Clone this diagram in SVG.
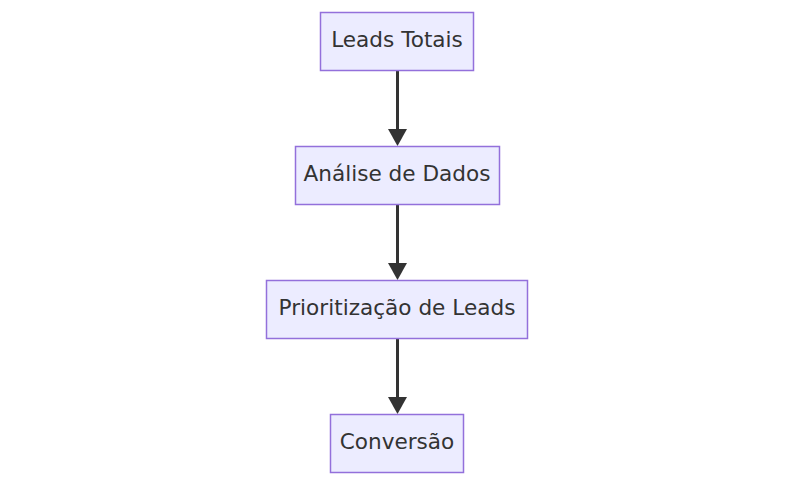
<svg xmlns="http://www.w3.org/2000/svg" width="795" height="486" viewBox="0 0 795 486">
<style>
.node rect{fill:#ECECFF;stroke:#9370DB;stroke-width:1.5}
.node text{font-family:"DejaVu Sans",Verdana,sans-serif;font-size:21.6px;fill:#333;text-anchor:middle}
.edge{stroke:#333;stroke-width:3;fill:none}
</style>
<defs>
<marker id="arrow" viewBox="0 0 17 19" refX="9" refY="9.5" markerUnits="userSpaceOnUse" markerWidth="17" markerHeight="19" orient="auto">
<path d="M0,0 L17,9.5 L0,19 z" fill="#333"/>
</marker>
</defs>
<rect width="795" height="486" fill="#fff"/>
<g id="connectors">
<path class="edge" d="M397.5,71 L397.5,138" marker-end="url(#arrow)"/>
<path class="edge" d="M397.5,205 L397.5,272" marker-end="url(#arrow)"/>
<path class="edge" d="M397.5,339 L397.5,406" marker-end="url(#arrow)"/>
</g>
<g id="n1" class="node"><rect x="320.5" y="12.5" width="153" height="58"/><text x="397" y="47">Leads Totais</text></g>
<g id="n2" class="node"><rect x="295.5" y="146.5" width="204" height="58"/><text x="397" y="181">Análise de Dados</text></g>
<g id="n3" class="node"><rect x="266.5" y="280.5" width="261" height="58"/><text x="397" y="315">Prioritização de Leads</text></g>
<g id="n4" class="node"><rect x="330.5" y="414.5" width="133" height="58"/><text x="397" y="449">Conversão</text></g>
</svg>
